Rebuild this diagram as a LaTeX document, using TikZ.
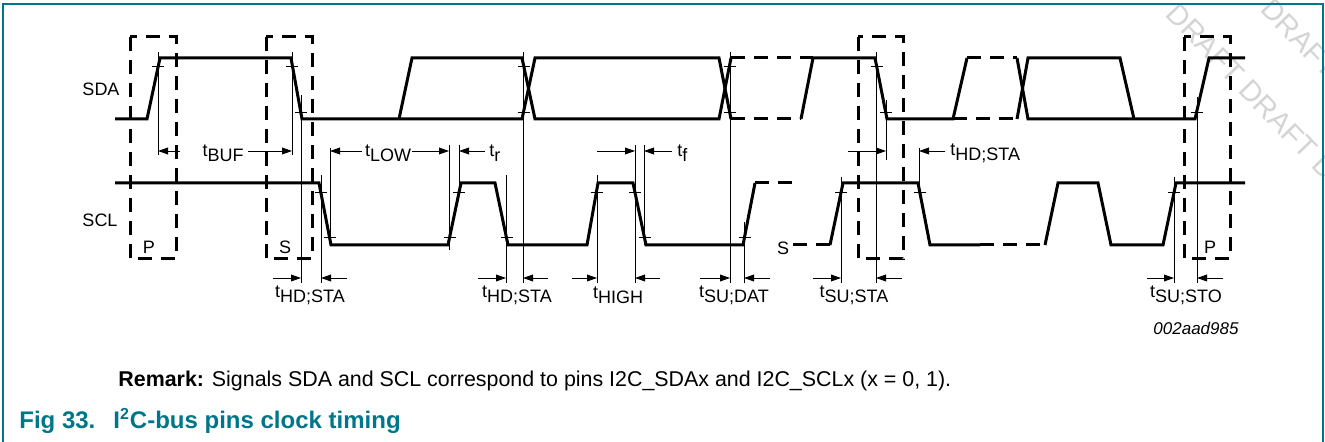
\documentclass[tikz,border=0pt]{standalone}
\usepackage{fontspec}
\setmainfont{Liberation Sans}
\usetikzlibrary{arrows.meta}
\definecolor{nxpteal}{RGB}{0,118,138}
\newcommand{\tlab}[1]{t\raisebox{-2.6pt}{#1}}
\tikzset{
  sig/.style={line width=1.5pt},
  sigdash/.style={sig,dash pattern=on 7pt off 4.5pt},
  cond/.style={line width=1.5pt,dash pattern=on 7pt off 4.5pt},
  refl/.style={line width=0.45pt},
  dim/.style={line width=0.45pt,-{Triangle[length=5pt,width=3.4pt]}},
  lab/.style={font=\fontsize{9}{10}\selectfont,inner sep=0pt},
  border/.style={nxpteal,line width=0.7pt},
  draft/.style={black!17,font=\fontsize{14.5}{15}\selectfont,inner sep=0pt},
}
\begin{document}
\begin{tikzpicture}[x=0.5pt,y=-0.5pt]
  \useasboundingbox (0,0) rectangle (1325,442);
  % watermark
  \begin{scope}
    \clip (0,0) rectangle (1325,442);
    \node[draft,rotate=-46] (draftA) at (1278,119) {DRAFT DRAFT DRAFT};
    \node[draft,rotate=-46] (draftB) at (1300,38) {DRAFT DRAFT DRAFT};
  \end{scope}
  % frame
  \draw[border] (3,442) -- (3,4) -- (1323,4) -- (1323,442);
  % start and stop conditions
  \draw[cond] (130,37) rectangle (176,259);
  \draw[cond] (266,37) rectangle (312,259);
  \draw[cond] (858,37) rectangle (903,259);
  \draw[cond] (1184,37) rectangle (1230,259);
  \node[lab] (p1) at (149,247) {P};
  \node[lab] (s1) at (285,247) {S};
  \node[lab] (s2) at (783,248) {S};
  \node[lab] (p2) at (1210,247) {P};
  % SDA
  \node[lab] (sda) at (101,89) {SDA};
  \draw[sig] (115,119) -- (147,119) -- (160,58) -- (291,58) -- (302,119) -- (522,119) -- (535,58) -- (719,58) -- (731,119);
  \draw[sig] (399,119) -- (412,58) -- (522,58) -- (535,119) -- (719,119) -- (731,58);
  \draw[sigdash] (731,58) -- (813,58);
  \draw[sigdash] (731,119) -- (801,119);
  \draw[sig] (801,119) -- (813,58) -- (875,58) -- (887,119) -- (953,119) -- (967,58);
  \draw[sigdash] (967,58) -- (1017,58);
  \draw[sigdash] (953,119) -- (1017,119);
  \draw[sig] (1017,58) -- (1028,119) -- (1195,119) -- (1209,58) -- (1245,58);
  \draw[sig] (1017,119) -- (1028,58) -- (1120,58) -- (1134,119);
  % SCL
  \node[lab] (scl) at (100,220) {SCL};
  \draw[sig] (115,183) -- (319,183) -- (331,245) -- (448,245) -- (461,183) -- (495,183) -- (508,245) -- (587,245) -- (598,183) -- (633,183) -- (646,245) -- (743,245) -- (755,183);
  \draw[sigdash] (755,183) -- (797,183);
  \draw[sigdash] (793,245) -- (830,245);
  \draw[sig] (830,245) -- (843,183) -- (918,183) -- (930,245) -- (980,245);
  \draw[sigdash] (980,245) -- (1045,245);
  \draw[sig] (1045,245) -- (1058,183) -- (1098,183) -- (1111,245) -- (1163,245) -- (1176,183) -- (1245,183);
  % level ticks
  \foreach \x/\y in {158/66, 292/66, 301/112, 523.5/66, 523.5/112, 729.5/66, 729.5/112, 876.5/66, 885.5/112, 1196.5/112,
                     320.5/192, 329.5/237, 449.5/237, 459/192, 506.5/237, 596.5/192, 635/192, 644.5/237, 744.5/237, 841/192, 919.5/192, 1174/192}
    \draw[refl] (\x-6,\y) -- (\x+6,\y);
  % reference lines
  \foreach \x/\a/\b in {158/52/155, 292/52/155, 301/95/283, 321/175/283, 330/148/245, 449/145/250, 459/145/193,
                        506/175/283, 523/52/283, 597/175/283, 635/145/283, 644/145/245, 730/52/283, 744/222/283,
                        841/177/283, 876/52/283, 886/100/160, 919/148/192, 1174/177/283, 1197/97/283}
    \draw[refl] (\x,\a) -- (\x,\b);
  % timing arrows, upper row
  \foreach \a/\b in {180/158, 248/292, 362/330, 412/449, 485/459, 597/635, 672/644, 848/886, 945/919}
    \draw[dim] (\a,151) -- (\b,151);
  \node[lab] (tbuf) at (223,153) {\tlab{BUF}};
  \node[lab] (tlow) at (388,153) {\tlab{LOW}};
  \node[lab,anchor=west] (tr) at (489,153) {\tlab{r}};
  \node[lab,anchor=west] (tf) at (677,153) {\tlab{f}};
  \node[lab,anchor=west] (thdsta3) at (950,153) {\tlab{HD;STA}};
  % timing arrows, lower row
  \foreach \a/\b in {273/301, 347/321, 478/506, 548/523, 572/597, 660/635, 700/730, 770/744, 813/841, 902/876, 1147/1174, 1223/1197}
    \draw[dim] (\a,278) -- (\b,278);
  \node[lab] (thdsta1) at (310,295) {\tlab{HD;STA}};
  \node[lab] (thdsta2) at (517,295) {\tlab{HD;STA}};
  \node[lab] (thigh) at (618,295) {\tlab{HIGH}};
  \node[lab] (tsudat) at (734,295) {\tlab{SU;DAT}};
  \node[lab] (tsusta) at (854,295) {\tlab{SU;STA}};
  \node[lab] (tsusto) at (1186,295) {\tlab{SU;STO}};
  % figure id, remark and caption
  \node[font=\fontsize{8.5}{9}\selectfont\itshape,inner sep=0pt] (figid) at (1196,328) {002aad985};
  \node[anchor=west,inner sep=0pt,font=\fontsize{10.7}{12}\selectfont] (remark) at (118,381)
    {\textbf{Remark:} Signals SDA and SCL correspond to pins I2C\_SDAx and I2C\_SCLx (x = 0, 1).};
  \node[anchor=west,inner sep=0pt,nxpteal,font=\fontsize{12}{14}\selectfont\bfseries] (caption) at (19,421)
    {Fig 33.\hspace{9pt}I\textsuperscript{2}C-bus pins clock timing};
\end{tikzpicture}
\end{document}
